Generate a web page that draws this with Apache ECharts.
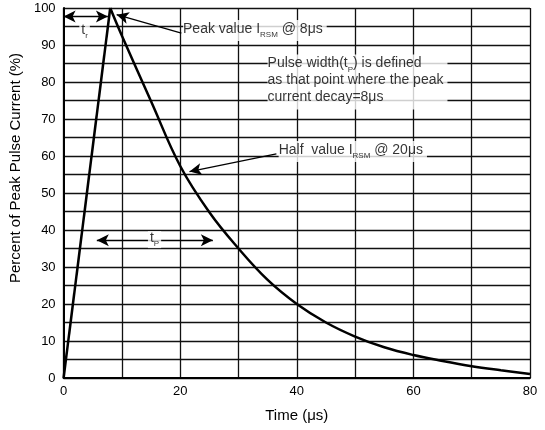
<!DOCTYPE html>
<html><head><meta charset="utf-8">
<script src="https://cdn.jsdelivr.net/npm/echarts@6/dist/echarts.min.js"></script>
<style>html,body{margin:0;padding:0;background:#fff}#c{width:545px;height:430px}</style>
</head><body><div id="c"></div>
<script>
// ---- data ----
const riseX = [0, 8];
const riseY = [0, 100];
const decayX = [8, 10, 15, 20, 25, 30, 35, 40, 45, 50, 55, 60, 65, 70, 75, 80];
const decayY = [100, 92.5, 74.8, 57.3, 44.8, 35, 26.5, 20, 15, 11.2, 8.3, 6.2, 4.6, 3.2, 2.1, 1.1];
const xTickValues = [0, 20, 40, 60, 80];
const yTickValues = [0, 10, 20, 30, 40, 50, 60, 70, 80, 90, 100];

// annotation anchors (data coordinates)
const trArrow = [[0, 97.7], [7.6, 97.7]];
const tpArrow = [[5.7, 37.2], [25.6, 37.2]];
const peakPointer = [[20.2, 93.2], [9.1, 98.2]];
const halfPointer = [[36.5, 60.6], [21.6, 55.8]];
const noteAnchors = [[20.4, 93.9], [34.9, 80.0], [36.8, 61.2], [15.6, 37.4], [3.6, 93.7]];
const noteTexts = [
  '{n|Peak value I}{s|RSM}{n| @ 8μs}',
  '{n|Pulse width(t}{s|P}{n|) is defined}\n{n|as that point where the peak}\n{n|current decay=8μs}',
  '{n|Half  value I}{s|RSM}{n| @ 20μs}',
  '{n|t}{s|P}',
  '{n|t}{s|r}'
];
const noteAlign = ['left', 'left', 'left', 'center', 'center'];

const FONT = '"Liberation Sans", Arial, sans-serif';
const rich = {
  n: {fontSize: 14, fontFamily: FONT, color: '#000', lineHeight: 17, verticalAlign: 'top', padding: [0, 0, 2, 0]},
  s: {fontSize: 8, fontFamily: FONT, color: '#000', lineHeight: 9, verticalAlign: 'bottom'}
};

const zip = (xs, ys) => xs.map((x, i) => [x, ys[i]]);
const seg = (p, s0, s1) => [{coord: p[0], symbol: s0}, {coord: p[1], symbol: s1}];

const notesData = noteAnchors.map((p, i) => ({
  value: p,
  label: {
    show: true,
    formatter: noteTexts[i],
    position: noteAlign[i] === 'left' ? 'right' : 'inside',
    distance: 0,
    align: noteAlign[i],
    verticalAlign: 'middle',
    backgroundColor: '#fff',
    padding: noteAlign[i] === 'left' ? [2, 4, 2, 0] : [0, 2, 0, 2],
    rich: rich
  }
}));

const chart = echarts.init(document.getElementById('c'), null, {renderer: 'canvas'});
chart.setOption({
  animation: false,
  backgroundColor: '#fff',
  grid: {left: 62, right: 15, top: 8, bottom: 52, containLabel: false},
  xAxis: {
    type: 'value', min: 0, max: 80, interval: 10,
    name: 'Time (μs)', nameLocation: 'middle', nameGap: 30,
    nameTextStyle: {fontSize: 15, fontFamily: FONT, color: '#000'},
    axisLine: {show: true, onZero: false, lineStyle: {color: '#000', width: 2}},
    axisTick: {show: false},
    axisLabel: {fontSize: 13, fontFamily: FONT, color: '#000', margin: 7,
      formatter: v => xTickValues.includes(v) ? String(v) : ''},
    splitLine: {show: true, lineStyle: {color: '#111', width: 1.3}}
  },
  yAxis: {
    type: 'value', min: 0, max: 100, interval: 5,
    name: 'Percent of Peak Pulse Current (%)', nameLocation: 'middle', nameGap: 39,
    nameTextStyle: {fontSize: 15, fontFamily: FONT, color: '#000', padding: [0, 0, 0, 50]},
    axisLine: {show: true, lineStyle: {color: '#000', width: 2}},
    axisTick: {show: false},
    axisLabel: {fontSize: 13, fontFamily: FONT, color: '#000', margin: 8,
      formatter: v => yTickValues.includes(v) ? String(v) : ''},
    splitLine: {show: true, lineStyle: {color: '#111', width: 1.3}}
  },
  series: [
    {type: 'line', data: zip(riseX, riseY), symbol: 'none', z: 4,
     lineStyle: {color: '#000', width: 2.5}},
    {type: 'line', data: zip(decayX, decayY), symbol: 'none', smooth: 0.4, z: 4,
     lineStyle: {color: '#000', width: 2.5},
     markLine: {
       silent: true, symbolSize: [9, 12], label: {show: false},
       lineStyle: {color: '#000', width: 1.3, type: 'solid'},
       data: [
         seg(trArrow, 'arrow', 'arrow'),
         seg(tpArrow, 'arrow', 'arrow'),
         seg(peakPointer, 'none', 'arrow'),
         seg(halfPointer, 'none', 'arrow')
       ]
     }},
    {type: 'scatter', data: notesData, symbolSize: 1, z: 10,
     itemStyle: {color: 'rgba(0,0,0,0)'}, silent: true}
  ]
});
</script></body></html>
